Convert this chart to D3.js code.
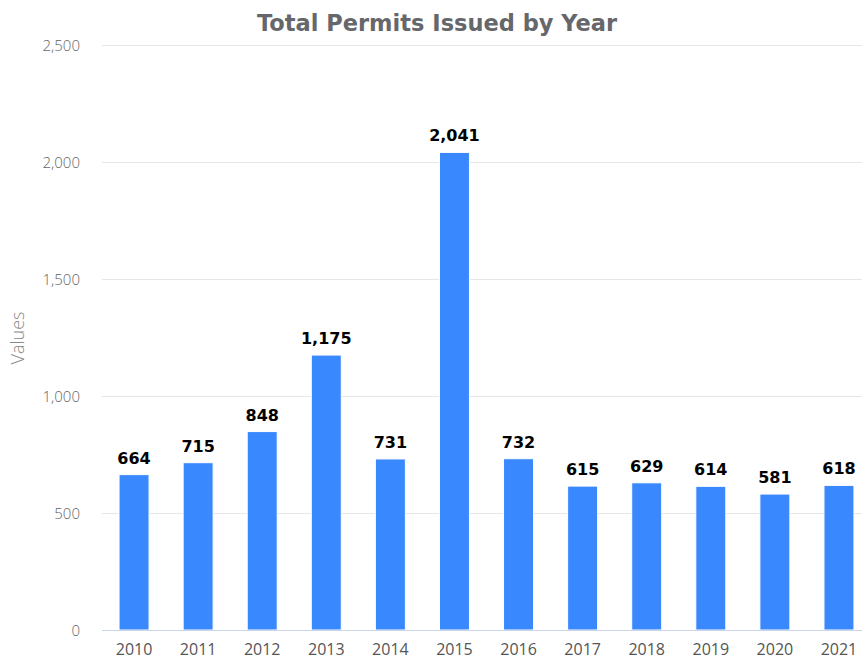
<!DOCTYPE html>
<html>
<head>
<meta charset="utf-8">
<script src="https://cdn.jsdelivr.net/npm/d3@7"></script>
<style>
  html, body { margin: 0; padding: 0; background: #fff; }
  svg { display: block; font-family: "Open Sans", "DejaVu Sans", sans-serif; }
</style>
</head>
<body>
<svg id="chart" width="862" height="660"></svg>
<script>
const titleText = "Total Permits Issued by Year";
const yAxisTitle = "Values";
const years = ["2010","2011","2012","2013","2014","2015","2016","2017","2018","2019","2020","2021"];
const permits = [664, 715, 848, 1175, 731, 2041, 732, 615, 629, 614, 581, 618];
const yTicks = [0, 500, 1000, 1500, 2000, 2500];

const svg = d3.select("#chart");
const plot = { left: 102, right: 862, top: 45, bottom: 630 };

const x = d3.scaleBand().domain(years).range([102, 871]).paddingInner(0.532).paddingOuter(0.266);
const y = d3.scaleLinear().domain([0, 2500]).range([plot.bottom, plot.top]);
const fmt = d3.format(",");

// gridlines
svg.append("g").selectAll("line").data(yTicks.filter(d => d > 0)).join("line")
  .attr("x1", plot.left).attr("x2", plot.right)
  .attr("y1", d => y(d) + 0.5).attr("y2", d => y(d) + 0.5)
  .attr("stroke", "#e6e6e6").attr("stroke-width", 1);

// y axis labels
const yAxis = d3.axisLeft(y).tickValues(yTicks).tickFormat(fmt).tickSize(0).tickPadding(0);
const gy = svg.append("g").attr("transform", "translate(80,0)").call(yAxis);
gy.select(".domain").remove();
gy.selectAll("text").attr("fill", "#666").attr("font-size", 15).attr("font-weight", 300)
  .attr("font-family", "'Open Sans', sans-serif").attr("dy", "0.35em");

// bars
svg.append("g").selectAll("rect").data(years).join("rect")
  .attr("x", d => x(d))
  .attr("width", x.bandwidth())
  .attr("y", (d, i) => y(permits[i]))
  .attr("height", (d, i) => y(0) - y(permits[i]))
  .attr("fill", "#3a88fe")
  .attr("stroke", "#ffffff").attr("stroke-width", 1);

// baseline
svg.append("line").attr("x1", plot.left).attr("x2", plot.right)
  .attr("y1", y(0) + 0.5).attr("y2", y(0) + 0.5)
  .attr("stroke", "#ccd6eb").attr("stroke-width", 1);

// x axis labels
const xAxis = d3.axisBottom(x).tickSize(0).tickPadding(0);
const gx = svg.append("g").attr("transform", `translate(0,${plot.bottom})`).call(xAxis);
gx.select(".domain").remove();
gx.selectAll("text").attr("fill", "#555").attr("font-size", 16).attr("font-weight", 400)
  .attr("font-family", "'Open Sans', sans-serif").attr("y", 25).attr("dy", 0);

// data labels
svg.append("g").selectAll("text").data(years).join("text")
  .attr("x", d => x(d) + x.bandwidth() / 2)
  .attr("y", (d, i) => y(permits[i]) - 11)
  .attr("text-anchor", "middle")
  .attr("font-size", 16).attr("font-weight", 700)
  .attr("font-family", "'DejaVu Sans', sans-serif")
  .attr("fill", "#000")
  .text((d, i) => fmt(permits[i]));

// title
svg.append("text").attr("x", 437).attr("y", 31).attr("text-anchor", "middle")
  .attr("font-size", 22.5).attr("font-weight", 700)
  .attr("font-family", "'DejaVu Sans', sans-serif")
  .attr("fill", "#66676b").text(titleText);

// y axis title
svg.append("text").attr("transform", `translate(24,338) rotate(-90)`)
  .attr("text-anchor", "middle").attr("font-size", 18).attr("font-weight", 300)
  .attr("font-family", "'Open Sans', sans-serif")
  .attr("fill", "#888").text(yAxisTitle);
</script>
</body>
</html>
